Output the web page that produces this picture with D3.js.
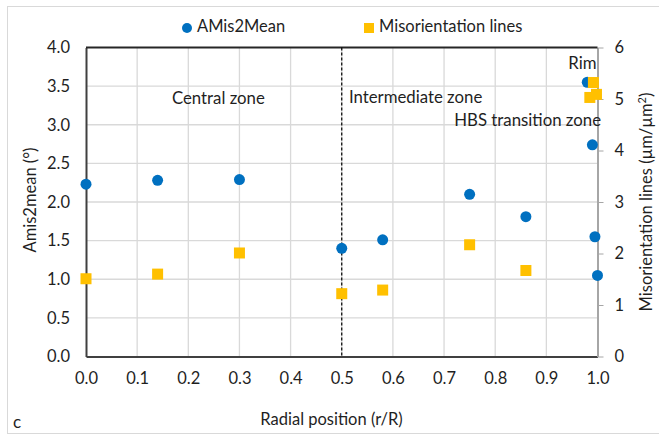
<!DOCTYPE html>
<html><head><meta charset="utf-8">
<script src="https://cdn.jsdelivr.net/npm/d3@7"></script>
<style>
body{margin:0;background:#fff;}
svg{display:block;font-family:Lato,"Open Sans",sans-serif;}
</style></head>
<body><svg id="c" width="659" height="436"></svg>
<script>
// Data
const amisX = [0.0, 0.14, 0.30, 0.50, 0.58, 0.75, 0.86, 0.98, 0.99, 0.995, 1.0];
const amisY = [2.23, 2.28, 2.29, 1.40, 1.51, 2.10, 1.81, 3.55, 2.74, 1.55, 1.05];
const misX = [0.0, 0.14, 0.30, 0.50, 0.58, 0.75, 0.86, 0.985, 0.992, 0.998];
const misY = [1.51, 1.60, 2.01, 1.22, 1.29, 2.17, 1.67, 5.03, 5.32, 5.09];
const xTicks = [0,0.1,0.2,0.3,0.4,0.5,0.6,0.7,0.8,0.9,1.0];
const yLeftTicks = [0,0.5,1,1.5,2,2.5,3,3.5,4];
const yRightTicks = [0,1,2,3,4,5,6];
const zoneLabels = ["Central zone","Intermediate zone","HBS transition zone","Rim"];
const zoneX = [0.168, 0.514, 0.72, 0.943];
const zoneY = [3.32, 3.34, 3.04, 3.78];
const seriesNames = ["AMis2Mean","Misorientation lines"];
const dividerX = 0.5;

const svg = d3.select("#c");
const L=86, R=597.5, T=47.5, B=356.5;
const x = d3.scaleLinear().domain([0,1]).range([L,R]);
const yL = d3.scaleLinear().domain([0,4]).range([B,T]);
const yR = d3.scaleLinear().domain([0,6]).range([B,T]);
const blue="#0070C0", gold="#FFC000", txt="#1f1f1f";

// outer frame
svg.append("rect").attr("x",7.5).attr("y",6.5).attr("width",660).attr("height",427)
  .attr("fill","none").attr("stroke","#d9d9d9");

// gridlines
svg.append("g").selectAll("line").data(yLeftTicks.slice(1,-1)).join("line")
  .attr("x1",L).attr("x2",R).attr("y1",d=>yL(d)).attr("y2",d=>yL(d))
  .attr("stroke","#d9d9d9").attr("stroke-width",1.3);
svg.append("g").selectAll("line").data(xTicks.slice(1,-1)).join("line")
  .attr("y1",T).attr("y2",B).attr("x1",d=>x(d)).attr("x2",d=>x(d))
  .attr("stroke","#d9d9d9").attr("stroke-width",1.3);

// axes
const gx = svg.append("g").attr("transform",`translate(0,${B})`)
  .call(d3.axisBottom(x).tickValues(xTicks).tickFormat(d3.format(".1f")).tickSize(0).tickPadding(16));
gx.select(".domain").attr("stroke","#404040").attr("stroke-width",2);
const gl = svg.append("g").attr("transform",`translate(${L},0)`)
  .call(d3.axisLeft(yL).tickValues(yLeftTicks).tickFormat(d3.format(".1f")).tickSize(0).tickPadding(16));
gl.select(".domain").attr("stroke","#404040").attr("stroke-width",2);
const gr = svg.append("g").attr("transform",`translate(${R},0)`)
  .call(d3.axisRight(yR).tickValues(yRightTicks).tickFormat(d3.format("d")).tickSizeInner(6).tickSizeOuter(0).tickPadding(11));
gr.select(".domain").attr("stroke","#a6a6a6").attr("stroke-width",2);
gr.selectAll(".tick line").attr("stroke","#a6a6a6");
// top border
svg.append("line").attr("x1",L).attr("x2",R).attr("y1",T).attr("y2",T).attr("stroke","#262626").attr("stroke-width",2);
[gx,gl,gr].forEach(g=>g.selectAll("text").attr("font-size",16.5).attr("fill",txt).attr("font-family","Lato"));

// divider
svg.append("line").attr("x1",x(dividerX)).attr("x2",x(dividerX)).attr("y1",T).attr("y2",B)
  .attr("stroke","#000").attr("stroke-width",1.2).attr("stroke-dasharray","3,2");

// zone labels
svg.append("g").selectAll("text").data(zoneLabels).join("text")
  .attr("x",(d,i)=>x(zoneX[i])).attr("y",(d,i)=>yL(zoneY[i]))
  .attr("font-size",16.8).attr("fill",txt).attr("dominant-baseline","middle").text(d=>d);

// series
svg.append("g").selectAll("circle").data(amisX).join("circle")
  .attr("cx",d=>x(d)).attr("cy",(d,i)=>yL(amisY[i])).attr("r",5.5).attr("fill",blue);
svg.append("g").selectAll("rect").data(misX).join("rect")
  .attr("x",d=>x(d)-5.5).attr("y",(d,i)=>yR(misY[i])-5.5).attr("width",11).attr("height",11).attr("fill",gold);

// legend
svg.append("circle").attr("cx",187).attr("cy",28).attr("r",5).attr("fill",blue);
svg.append("text").attr("x",197).attr("y",28).attr("dominant-baseline","middle").attr("font-size",16.5).attr("fill",txt).text(seriesNames[0]);
svg.append("rect").attr("x",364).attr("y",23).attr("width",10).attr("height",10).attr("fill",gold);
svg.append("text").attr("x",379).attr("y",28).attr("dominant-baseline","middle").attr("font-size",16.5).attr("fill",txt).text(seriesNames[1]);

// axis titles
svg.append("text").attr("transform","translate(36,200) rotate(-90)").attr("text-anchor","middle")
  .attr("font-size",16.5).attr("fill",txt).text("Amis2mean (°)");
const rt = svg.append("text").attr("transform","translate(652,202) rotate(-90)").attr("text-anchor","middle")
  .attr("font-size",16.5).attr("fill",txt);
rt.append("tspan").text("Misorientation lines (µm/µm");
rt.append("tspan").attr("font-size",11).attr("dy",-6).text("2");
rt.append("tspan").attr("dy",6).text(")");
svg.append("text").attr("x",x(0.48)).attr("y",425).attr("text-anchor","middle")
  .attr("font-size",16.5).attr("fill",txt).text("Radial position (r/R)");
svg.append("text").attr("x",13).attr("y",428).attr("font-size",17).attr("fill",txt).text("c");
</script></body></html>
